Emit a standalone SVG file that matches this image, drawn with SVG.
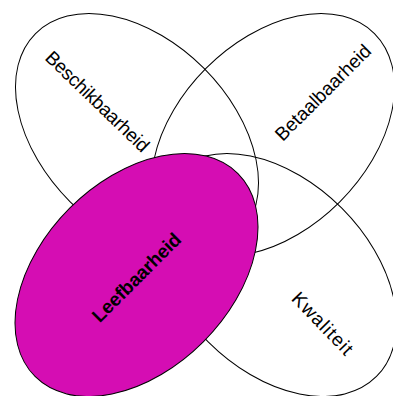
<svg xmlns="http://www.w3.org/2000/svg" width="393" height="396" viewBox="0 0 393 396">
<style>
.shape{fill:none;stroke:#000;stroke-width:1}
.hl{fill:#D50DB3;stroke:#000;stroke-width:1}
.lbl{font-family:"Liberation Sans",Arial,sans-serif;font-size:19px;fill:#000;text-anchor:middle;dominant-baseline:central}
.bold{font-weight:bold}
</style>
<rect width="393" height="396" fill="#fff"/>
<g id="beschikbaarheid">
<ellipse class="shape" cx="0" cy="0" rx="143.5" ry="94.5" transform="translate(137,135) rotate(45)"/>
<text class="lbl" transform="translate(97.5,101.5) rotate(44)" textLength="136">Beschikbaarheid</text>
</g>
<g id="betaalbaarheid">
<ellipse class="shape" cx="0" cy="0" rx="143.5" ry="94.5" transform="translate(273,135) rotate(-45)"/>
<text class="lbl" transform="translate(323,92.5) rotate(-45)" textLength="127">Betaalbaarheid</text>
</g>
<g id="kwaliteit">
<ellipse class="shape" cx="0" cy="0" rx="143.5" ry="94.5" transform="translate(275,275) rotate(45)"/>
<text class="lbl" transform="translate(322.5,323.5) rotate(46)" textLength="79">Kwaliteit</text>
</g>
<g id="leefbaarheid">
<ellipse class="hl" cx="0" cy="0" rx="143.5" ry="94.5" transform="translate(136.5,275) rotate(-45)"/>
<text class="lbl bold" transform="translate(136.5,277.5) rotate(-45)" textLength="117">Leefbaarheid</text>
</g>
<g id="connectors"/>
</svg>
